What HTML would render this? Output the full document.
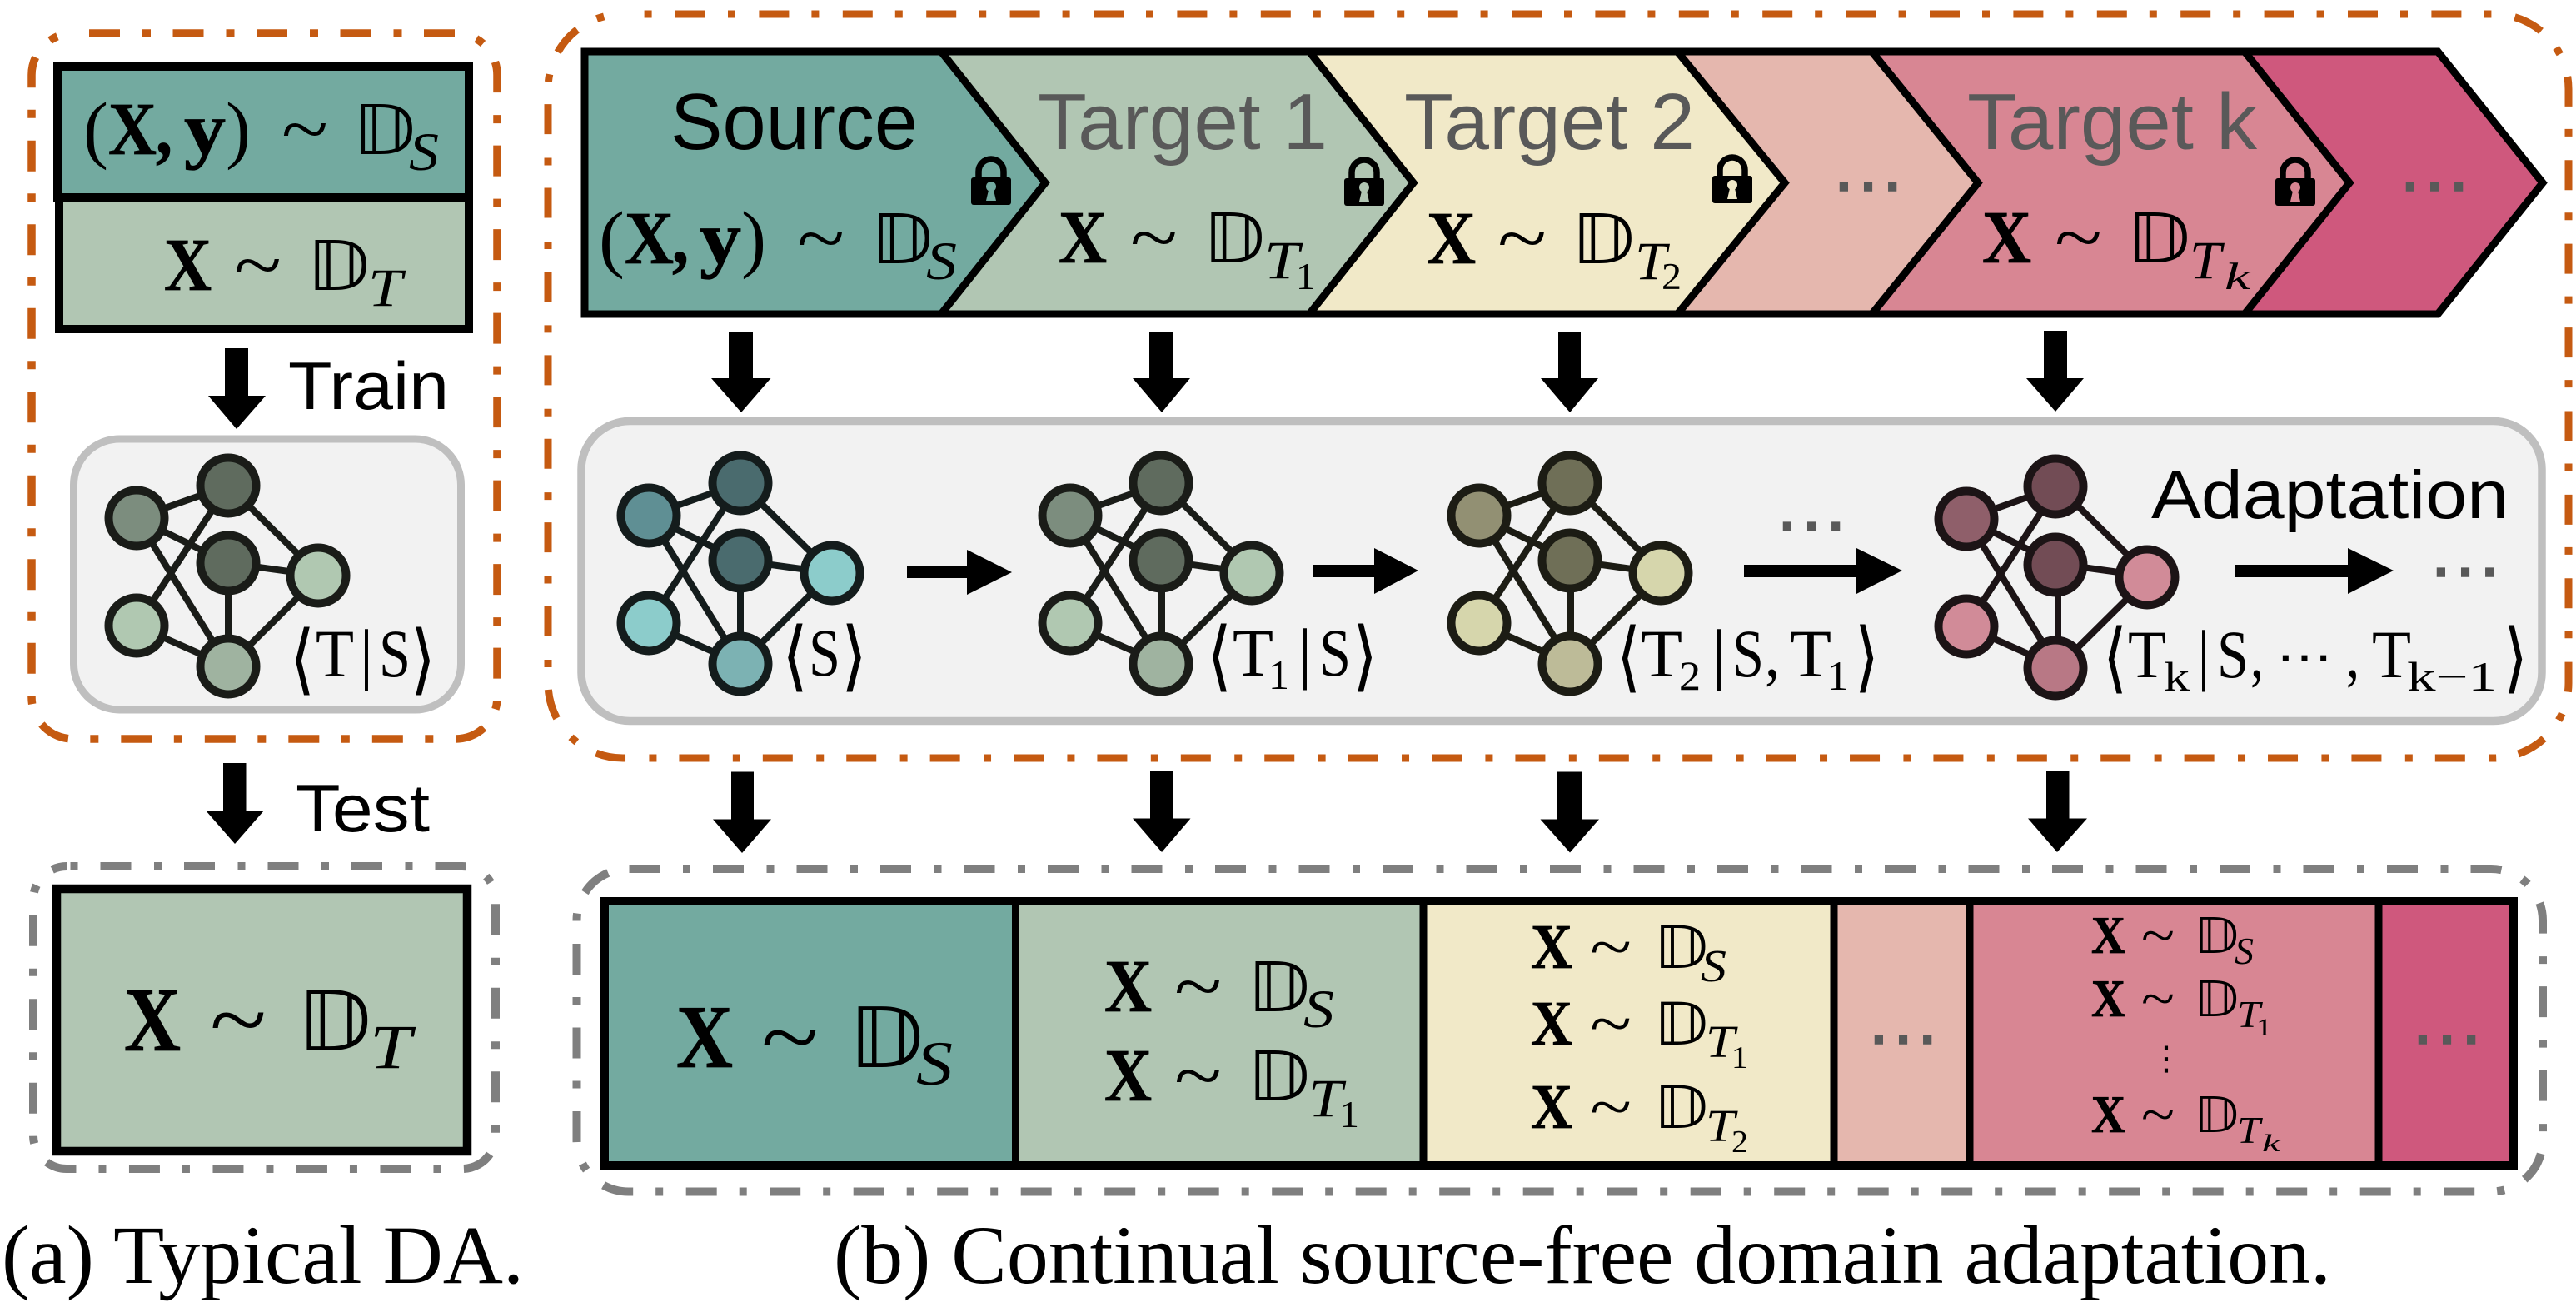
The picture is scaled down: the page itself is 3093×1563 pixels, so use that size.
<!DOCTYPE html>
<html>
<head>
<meta charset="utf-8">
<style>
html,body{margin:0;padding:0;background:#fff;width:3093px;height:1563px;overflow:hidden}
svg{display:block}
text{white-space:pre}
.r{font-family:"Liberation Serif",serif}
.b{font-family:"Liberation Serif",serif;font-weight:bold;stroke:#000;stroke-width:.8px}
.i{font-family:"Liberation Serif",serif;font-style:italic}
.d{font-family:"DejaVu Sans","DejaVu Serif",serif}
.br{font-family:"DejaVu Sans","DejaVu Serif",serif;stroke:#000;stroke-width:1px}
.s{font-family:"Liberation Sans",sans-serif}
.g{fill:#595959}
.dots{font-family:"Liberation Sans",sans-serif;font-size:92px;fill:#595959;stroke:#595959;stroke-width:1.5px}
</style>
</head>
<body>
<svg width="3093" height="1563" viewBox="0 0 3093 1563" xmlns="http://www.w3.org/2000/svg">
<defs>
<g id="edges" fill="none" stroke-width="8">
<path d="M0 0L110 -39M0 0L110 54M0 0L110 178M0 129L110 -39M0 129L110 178M110 -39L220 69M110 54L220 69M110 54L110 178M220 69L110 178"/>
</g>
<g id="lockbody">
<path d="M-15 30V19A15 15 0 0 1 15 19V30" fill="none" stroke="#000" stroke-width="7.5"/>
<rect x="-24" y="26" width="48" height="33" rx="3" fill="#000"/>
</g>
</defs>

<!-- (a) dashed boxes -->
<rect x="38" y="40" width="559" height="847" rx="50" fill="none" stroke="#c55a11" stroke-width="9.5" stroke-dasharray="37 27 10 26.5" stroke-dashoffset="-19"/>
<rect x="40" y="1040" width="555" height="363" rx="40" fill="none" stroke="#7f7f7f" stroke-width="10" stroke-dasharray="37 27.5 9 27" stroke-dashoffset="-40.5"/>

<!-- (a) top boxes -->
<rect x="69" y="80" width="494" height="157" fill="#73aaa0" stroke="#000" stroke-width="10"/>
<rect x="71" y="237" width="492" height="158" fill="#b1c6b3" stroke="#000" stroke-width="10"/>

<text class="r" x="100" y="185" font-size="90" textLength="30" lengthAdjust="spacingAndGlyphs">(</text>
<text class="b" x="130" y="185" font-size="90" textLength="58" lengthAdjust="spacingAndGlyphs">X</text>
<text class="b" x="187" y="185" font-size="90" textLength="20" lengthAdjust="spacingAndGlyphs">,</text>
<text class="b" x="221" y="185" font-size="90" textLength="50" lengthAdjust="spacingAndGlyphs">y</text>
<text class="r" x="271" y="185" font-size="90" textLength="30" lengthAdjust="spacingAndGlyphs">)</text>
<text class="r" x="338" y="185" font-size="90" textLength="56" lengthAdjust="spacingAndGlyphs">~</text>
<text class="d" x="423" y="185" font-size="82" textLength="76" lengthAdjust="spacingAndGlyphs">𝔻</text>
<text class="i" x="491" y="204" font-size="65" textLength="36" lengthAdjust="spacingAndGlyphs">S</text>

<text class="b" x="197" y="348" font-size="90" textLength="57" lengthAdjust="spacingAndGlyphs">X</text>
<text class="r" x="281" y="348" font-size="90" textLength="57" lengthAdjust="spacingAndGlyphs">~</text>
<text class="d" x="368" y="348" font-size="82" textLength="76" lengthAdjust="spacingAndGlyphs">𝔻</text>
<text class="i" x="442" y="367" font-size="65" textLength="41" lengthAdjust="spacingAndGlyphs">T</text>

<!-- Train arrow -->
<polygon points="270,418 298,418 298,475 319,475 284,515 250,475 270,475" fill="#000"/>
<text class="s" x="346" y="491" font-size="81" textLength="193" lengthAdjust="spacingAndGlyphs">Train</text>

<!-- (a) gray box and net -->
<rect x="88.5" y="527" width="465" height="325" rx="55" fill="#f2f2f2" stroke="#bfbfbf" stroke-width="9"/>
<g transform="translate(164,622)">
<use href="#edges" stroke="#1a1c18"/>
<g stroke="#1a1c18" stroke-width="10">
<circle cx="0" cy="0" r="33.5" fill="#7c8d7e"/>
<circle cx="110" cy="-39" r="33.5" fill="#5f6b5e"/>
<circle cx="110" cy="54" r="33.5" fill="#5f6b5e"/>
<circle cx="218" cy="69" r="33.5" fill="#b0c8b1"/>
<circle cx="0" cy="129" r="33.5" fill="#b0c8b1"/>
<circle cx="110" cy="178" r="33.5" fill="#9fb3a0"/>
</g>
</g>
<text class="br" x="349" y="822" font-size="91" textLength="28" lengthAdjust="spacingAndGlyphs">⟨</text>
<text class="r" x="379" y="812" font-size="82" textLength="46" lengthAdjust="spacingAndGlyphs">T</text>
<text class="r" x="432" y="812" font-size="82" textLength="16" lengthAdjust="spacingAndGlyphs">|</text>
<text class="r" x="455" y="812" font-size="82" textLength="38" lengthAdjust="spacingAndGlyphs">S</text>
<text class="br" x="494" y="822" font-size="91" textLength="28" lengthAdjust="spacingAndGlyphs">⟩</text>

<!-- Test arrow -->
<polygon points="268,916 295.5,916 295.5,973 317,973 282,1013 247,973 268,973" fill="#000"/>
<text class="s" x="355" y="998" font-size="81" textLength="161" lengthAdjust="spacingAndGlyphs">Test</text>

<!-- (a) test box -->
<rect x="68" y="1067" width="493" height="315" fill="#b1c6b3" stroke="#000" stroke-width="10.5"/>
<text class="b" x="149" y="1261" font-size="110" textLength="68" lengthAdjust="spacingAndGlyphs">X</text>
<text class="r" x="252" y="1261" font-size="110" textLength="68" lengthAdjust="spacingAndGlyphs">~</text>
<text class="d" x="356" y="1261" font-size="100" textLength="90" lengthAdjust="spacingAndGlyphs">𝔻</text>
<text class="i" x="444" y="1282" font-size="75" textLength="50" lengthAdjust="spacingAndGlyphs">T</text>

<text class="r" x="2" y="1540" font-size="100" textLength="627" lengthAdjust="spacingAndGlyphs">(a) Typical DA.</text>

<!-- (b) orange dashed -->
<rect x="658" y="17" width="2426" height="893" rx="90" fill="none" stroke="#c55a11" stroke-width="9" stroke-dasharray="36 27 9 28.4" stroke-dashoffset="-63"/>

<!-- chevrons -->
<g stroke="#000" stroke-width="9" stroke-linejoin="miter" stroke-miterlimit="10">
<polygon points="2600,62 2927,62 3053,219.5 2927,377 2600,377" fill="#cf587d"/>
<polygon points="2200,62 2695,62 2821,219.5 2695,377 2200,377" fill="#d88693"/>
<polygon points="1950,62 2247.5,62 2375,219.5 2247.5,377 1950,377" fill="#e5b7ae"/>
<polygon points="1500,62 2014,62 2143,219.5 2014,377 1500,377" fill="#f1e9c8"/>
<polygon points="1000,62 1572,62 1697,219.5 1572,377 1000,377" fill="#b1c6b3"/>
<polygon points="702,62 1130,62 1255,219.5 1130,377 702,377" fill="#73aaa0"/>
</g>

<text class="s" x="805" y="179" font-size="96" textLength="297" lengthAdjust="spacingAndGlyphs">Source</text>
<text class="s g" x="1246" y="179" font-size="96" textLength="348" lengthAdjust="spacingAndGlyphs">Target 1</text>
<text class="s g" x="1686" y="179" font-size="96" textLength="349" lengthAdjust="spacingAndGlyphs">Target 2</text>
<text class="s g" x="2362" y="179" font-size="96" textLength="348" lengthAdjust="spacingAndGlyphs">Target k</text>
<text class="dots" x="2197" y="229">…</text>
<text class="dots" x="2877" y="229">…</text>

<!-- locks -->
<g transform="translate(1190,187)"><use href="#lockbody"/><circle cx="0" cy="37" r="6" fill="#73aaa0"/><polygon points="-2,37 2,37 6,54 -6,54" fill="#73aaa0"/></g>
<g transform="translate(1638,188)"><use href="#lockbody"/><circle cx="0" cy="37" r="6" fill="#b1c6b3"/><polygon points="-2,37 2,37 6,54 -6,54" fill="#b1c6b3"/></g>
<g transform="translate(2080,185)"><use href="#lockbody"/><circle cx="0" cy="37" r="6" fill="#f1e9c8"/><polygon points="-2,37 2,37 6,54 -6,54" fill="#f1e9c8"/></g>
<g transform="translate(2756,188)"><use href="#lockbody"/><circle cx="0" cy="37" r="6" fill="#d88693"/><polygon points="-2,37 2,37 6,54 -6,54" fill="#d88693"/></g>

<!-- chevron math -->
<text class="r" x="719" y="316" font-size="90" textLength="31" lengthAdjust="spacingAndGlyphs">(</text>
<text class="b" x="750" y="316" font-size="90" textLength="59" lengthAdjust="spacingAndGlyphs">X</text>
<text class="b" x="807" y="316" font-size="90" textLength="20" lengthAdjust="spacingAndGlyphs">,</text>
<text class="b" x="840" y="316" font-size="90" textLength="50" lengthAdjust="spacingAndGlyphs">y</text>
<text class="r" x="890" y="316" font-size="90" textLength="30" lengthAdjust="spacingAndGlyphs">)</text>
<text class="r" x="957" y="316" font-size="90" textLength="57" lengthAdjust="spacingAndGlyphs">~</text>
<text class="d" x="1045" y="316" font-size="82" textLength="75" lengthAdjust="spacingAndGlyphs">𝔻</text>
<text class="i" x="1112" y="335" font-size="65" textLength="37" lengthAdjust="spacingAndGlyphs">S</text>

<text class="b" x="1271" y="315" font-size="90" textLength="58" lengthAdjust="spacingAndGlyphs">X</text>
<text class="r" x="1357" y="315" font-size="90" textLength="57" lengthAdjust="spacingAndGlyphs">~</text>
<text class="d" x="1444" y="315" font-size="82" textLength="75" lengthAdjust="spacingAndGlyphs">𝔻</text>
<text class="i" x="1518" y="334" font-size="65" textLength="42" lengthAdjust="spacingAndGlyphs">T</text>
<text class="r" x="1556" y="347" font-size="45" textLength="23" lengthAdjust="spacingAndGlyphs">1</text>

<text class="b" x="1713" y="316" font-size="90" textLength="59" lengthAdjust="spacingAndGlyphs">X</text>
<text class="r" x="1798" y="316" font-size="90" textLength="59" lengthAdjust="spacingAndGlyphs">~</text>
<text class="d" x="1886" y="316" font-size="82" textLength="77" lengthAdjust="spacingAndGlyphs">𝔻</text>
<text class="i" x="1963" y="335" font-size="65" textLength="38" lengthAdjust="spacingAndGlyphs">T</text>
<text class="r" x="1995" y="347" font-size="45" textLength="24" lengthAdjust="spacingAndGlyphs">2</text>

<text class="b" x="2380" y="315" font-size="90" textLength="59" lengthAdjust="spacingAndGlyphs">X</text>
<text class="r" x="2467" y="315" font-size="90" textLength="57" lengthAdjust="spacingAndGlyphs">~</text>
<text class="d" x="2553" y="315" font-size="82" textLength="77" lengthAdjust="spacingAndGlyphs">𝔻</text>
<text class="i" x="2629" y="334" font-size="65" textLength="38" lengthAdjust="spacingAndGlyphs">T</text>
<text class="i" x="2671" y="347" font-size="45" textLength="31" lengthAdjust="spacingAndGlyphs">k</text>

<!-- arrows row 1 -->
<g fill="#000">
<polygon points="875,398 904,398 904,454 925.5,454 890,495 854,454 875,454"/>
<polygon points="1380,398 1409,398 1409,454 1429,454 1395,495 1360,454 1380,454"/>
<polygon points="1871,398 1898,398 1898,454 1919,454 1885,495 1850,454 1871,454"/>
<polygon points="2454,397 2482,397 2482,454 2502,454 2468,494 2433,454 2454,454"/>
</g>

<!-- gray adaptation panel -->
<rect x="698" y="505.5" width="2354" height="360" rx="58" fill="#f2f2f2" stroke="#bfbfbf" stroke-width="9.5"/>

<!-- nets -->
<g transform="translate(779,619)">
<use href="#edges" stroke="#141c1c"/>
<g stroke="#141c1c" stroke-width="10">
<circle cx="0" cy="0" r="33.5" fill="#5f8f94"/>
<circle cx="110" cy="-39" r="33.5" fill="#4a6b6e"/>
<circle cx="110" cy="54" r="33.5" fill="#4a6b6e"/>
<circle cx="220" cy="69" r="33.5" fill="#8ccccb"/>
<circle cx="0" cy="129" r="33.5" fill="#8ccccb"/>
<circle cx="110" cy="178" r="33.5" fill="#7cb2b3"/>
</g>
</g>
<g transform="translate(1285,619)">
<use href="#edges" stroke="#1a1c18"/>
<g stroke="#1a1c18" stroke-width="10">
<circle cx="0" cy="0" r="33.5" fill="#7c8d7e"/>
<circle cx="109" cy="-39" r="33.5" fill="#5f6b5e"/>
<circle cx="109" cy="54" r="33.5" fill="#5f6b5e"/>
<circle cx="218" cy="69" r="33.5" fill="#b0c8b1"/>
<circle cx="0" cy="129" r="33.5" fill="#b0c8b1"/>
<circle cx="109" cy="178" r="33.5" fill="#9fb3a0"/>
</g>
</g>
<g transform="translate(1776,619)">
<use href="#edges" stroke="#1c1c14"/>
<g stroke="#1c1c14" stroke-width="10">
<circle cx="0" cy="0" r="33.5" fill="#929073"/>
<circle cx="109" cy="-39" r="33.5" fill="#6f6f57"/>
<circle cx="109" cy="54" r="33.5" fill="#6f6f57"/>
<circle cx="218" cy="69" r="33.5" fill="#d6d6ac"/>
<circle cx="0" cy="129" r="33.5" fill="#d6d6ac"/>
<circle cx="109" cy="178" r="33.5" fill="#bdbb98"/>
</g>
</g>
<g transform="translate(2361,623)">
<use href="#edges" stroke="#1c1416"/>
<g stroke="#1c1416" stroke-width="10">
<circle cx="0" cy="0" r="33.5" fill="#8f5f6a"/>
<circle cx="107" cy="-39" r="33.5" fill="#724c55"/>
<circle cx="107" cy="55" r="33.5" fill="#724c55"/>
<circle cx="217" cy="70" r="33.5" fill="#d18b98"/>
<circle cx="0" cy="129" r="33.5" fill="#d18b98"/>
<circle cx="107" cy="179" r="33.5" fill="#b87885"/>
</g>
</g>

<!-- horizontal arrows -->
<g fill="#000">
<polygon points="1089,679 1161,679 1161,660 1215,687 1161,714 1161,694 1089,694"/>
<polygon points="1577,678 1650,678 1650,658 1703,685 1650,713 1650,693 1577,693"/>
<polygon points="2094,678 2229,678 2229,658 2284,685 2229,713 2229,693 2094,693"/>
<polygon points="2684,678 2819,678 2819,658 2874,685 2819,713 2819,693 2684,693"/>
</g>
<text class="dots" x="2129" y="637">…</text>
<text class="dots" x="2914" y="692">…</text>
<text class="s" x="2583" y="622" font-size="82" textLength="429" lengthAdjust="spacingAndGlyphs">Adaptation</text>

<!-- captions -->
<text class="br" x="940" y="818" font-size="91" textLength="29" lengthAdjust="spacingAndGlyphs">⟨</text>
<text class="r" x="971" y="811" font-size="82" textLength="38" lengthAdjust="spacingAndGlyphs">S</text>
<text class="br" x="1011" y="818" font-size="91" textLength="29" lengthAdjust="spacingAndGlyphs">⟩</text>

<text class="br" x="1450" y="818" font-size="91" textLength="28" lengthAdjust="spacingAndGlyphs">⟨</text>
<text class="r" x="1480" y="811" font-size="82" textLength="49" lengthAdjust="spacingAndGlyphs">T</text>
<text class="r" x="1523" y="827" font-size="50" textLength="25" lengthAdjust="spacingAndGlyphs">1</text>
<text class="r" x="1559" y="811" font-size="82" textLength="16" lengthAdjust="spacingAndGlyphs">|</text>
<text class="r" x="1584" y="811" font-size="82" textLength="38" lengthAdjust="spacingAndGlyphs">S</text>
<text class="br" x="1625" y="818" font-size="91" textLength="28" lengthAdjust="spacingAndGlyphs">⟩</text>

<text class="br" x="1942" y="819" font-size="91" textLength="27" lengthAdjust="spacingAndGlyphs">⟨</text>
<text class="r" x="1970" y="812" font-size="82" textLength="50" lengthAdjust="spacingAndGlyphs">T</text>
<text class="r" x="2016" y="828" font-size="50" textLength="26" lengthAdjust="spacingAndGlyphs">2</text>
<text class="r" x="2056" y="812" font-size="82" textLength="16" lengthAdjust="spacingAndGlyphs">|</text>
<text class="r" x="2080" y="812" font-size="82" textLength="38" lengthAdjust="spacingAndGlyphs">S</text>
<text class="r" x="2119" y="812" font-size="82" textLength="18" lengthAdjust="spacingAndGlyphs">,</text>
<text class="r" x="2149" y="812" font-size="82" textLength="50" lengthAdjust="spacingAndGlyphs">T</text>
<text class="r" x="2194" y="828" font-size="50" textLength="25" lengthAdjust="spacingAndGlyphs">1</text>
<text class="br" x="2228" y="819" font-size="91" textLength="27" lengthAdjust="spacingAndGlyphs">⟩</text>

<text class="br" x="2526" y="820" font-size="91" textLength="27" lengthAdjust="spacingAndGlyphs">⟨</text>
<text class="r" x="2555" y="813" font-size="82" textLength="46" lengthAdjust="spacingAndGlyphs">T</text>
<text class="r" x="2598" y="829" font-size="50" textLength="31" lengthAdjust="spacingAndGlyphs">k</text>
<text class="r" x="2638" y="813" font-size="82" textLength="16" lengthAdjust="spacingAndGlyphs">|</text>
<text class="r" x="2662" y="813" font-size="82" textLength="38" lengthAdjust="spacingAndGlyphs">S</text>
<text class="r" x="2702" y="813" font-size="82" textLength="16" lengthAdjust="spacingAndGlyphs">,</text>
<text class="d" x="2733" y="809" font-size="60" textLength="68" lengthAdjust="spacingAndGlyphs">⋯</text>
<text class="r" x="2817" y="813" font-size="82" textLength="16" lengthAdjust="spacingAndGlyphs">,</text>
<text class="r" x="2848" y="813" font-size="82" textLength="47" lengthAdjust="spacingAndGlyphs">T</text>
<text class="r" x="2890" y="829" font-size="50" textLength="108" lengthAdjust="spacingAndGlyphs">k−1</text>
<text class="br" x="3007" y="820" font-size="91" textLength="27" lengthAdjust="spacingAndGlyphs">⟩</text>

<!-- arrows row 2 -->
<g fill="#000">
<polygon points="878,926.5 905,926.5 905,983.5 926,983.5 891,1024 856,983.5 878,983.5"/>
<polygon points="1381,925.5 1409,925.5 1409,982.5 1429.5,982.5 1395,1023 1360,982.5 1381,982.5"/>
<polygon points="1870,926.5 1899,926.5 1899,983.5 1920,983.5 1885,1023.5 1849.5,983.5 1870,983.5"/>
<polygon points="2457,925.5 2484.5,925.5 2484.5,982.5 2506,982.5 2470,1023 2435,982.5 2457,982.5"/>
</g>

<!-- (b) gray dashed -->
<rect x="692.5" y="1043" width="2360.5" height="387.5" rx="62" fill="none" stroke="#7f7f7f" stroke-width="10" stroke-dasharray="37 27.5 9 27" stroke-dashoffset="-1"/>

<!-- (b) bottom cells -->
<rect x="726" y="1082" width="493.5" height="317" fill="#73aaa0"/>
<rect x="1219.5" y="1082" width="489.5" height="317" fill="#b1c6b3"/>
<rect x="1709" y="1082" width="493" height="317" fill="#f1e9c8"/>
<rect x="2202" y="1082" width="163" height="317" fill="#e5b7ae"/>
<rect x="2365" y="1082" width="491" height="317" fill="#d88693"/>
<rect x="2856" y="1082" width="162" height="317" fill="#cf587d"/>
<rect x="726" y="1082" width="2292" height="317" fill="none" stroke="#000" stroke-width="10"/>
<g stroke="#000" stroke-width="9">
<line x1="1219.5" y1="1082" x2="1219.5" y2="1399"/>
<line x1="1709" y1="1082" x2="1709" y2="1399"/>
<line x1="2202" y1="1082" x2="2202" y2="1399"/>
<line x1="2365" y1="1082" x2="2365" y2="1399"/>
<line x1="2856" y1="1082" x2="2856" y2="1399"/>
</g>

<!-- cell 1 -->
<text class="b" x="812" y="1281" font-size="108" textLength="68" lengthAdjust="spacingAndGlyphs">X</text>
<text class="r" x="914" y="1281" font-size="108" textLength="69" lengthAdjust="spacingAndGlyphs">~</text>
<text class="d" x="1018" y="1281" font-size="100" textLength="91" lengthAdjust="spacingAndGlyphs">𝔻</text>
<text class="i" x="1100" y="1302" font-size="75" textLength="44" lengthAdjust="spacingAndGlyphs">S</text>
<!-- cell 2 -->
<text class="b" x="1326" y="1214" font-size="90" textLength="57" lengthAdjust="spacingAndGlyphs">X</text>
<text class="r" x="1410" y="1214" font-size="90" textLength="57" lengthAdjust="spacingAndGlyphs">~</text>
<text class="d" x="1497" y="1214" font-size="82" textLength="76" lengthAdjust="spacingAndGlyphs">𝔻</text>
<text class="i" x="1565" y="1233" font-size="65" textLength="37" lengthAdjust="spacingAndGlyphs">S</text>
<text class="b" x="1326" y="1321" font-size="90" textLength="57" lengthAdjust="spacingAndGlyphs">X</text>
<text class="r" x="1410" y="1321" font-size="90" textLength="57" lengthAdjust="spacingAndGlyphs">~</text>
<text class="d" x="1497" y="1321" font-size="82" textLength="76" lengthAdjust="spacingAndGlyphs">𝔻</text>
<text class="i" x="1571" y="1340" font-size="65" textLength="41" lengthAdjust="spacingAndGlyphs">T</text>
<text class="r" x="1608" y="1353" font-size="45" textLength="24" lengthAdjust="spacingAndGlyphs">1</text>
<!-- cell 3 -->
<text class="b" x="1838" y="1162" font-size="76" textLength="50" lengthAdjust="spacingAndGlyphs">X</text>
<text class="r" x="1909" y="1162" font-size="76" textLength="50" lengthAdjust="spacingAndGlyphs">~</text>
<text class="d" x="1985" y="1162" font-size="70" textLength="66" lengthAdjust="spacingAndGlyphs">𝔻</text>
<text class="i" x="2042" y="1178" font-size="55" textLength="31" lengthAdjust="spacingAndGlyphs">S</text>
<text class="b" x="1838" y="1254" font-size="76" textLength="50" lengthAdjust="spacingAndGlyphs">X</text>
<text class="r" x="1909" y="1254" font-size="76" textLength="50" lengthAdjust="spacingAndGlyphs">~</text>
<text class="d" x="1985" y="1254" font-size="70" textLength="66" lengthAdjust="spacingAndGlyphs">𝔻</text>
<text class="i" x="2048" y="1269" font-size="55" textLength="35" lengthAdjust="spacingAndGlyphs">T</text>
<text class="r" x="2079" y="1282" font-size="38" textLength="20" lengthAdjust="spacingAndGlyphs">1</text>
<text class="b" x="1838" y="1354" font-size="76" textLength="50" lengthAdjust="spacingAndGlyphs">X</text>
<text class="r" x="1909" y="1354" font-size="76" textLength="50" lengthAdjust="spacingAndGlyphs">~</text>
<text class="d" x="1985" y="1354" font-size="70" textLength="66" lengthAdjust="spacingAndGlyphs">𝔻</text>
<text class="i" x="2048" y="1370" font-size="55" textLength="35" lengthAdjust="spacingAndGlyphs">T</text>
<text class="r" x="2079" y="1383" font-size="38" textLength="20" lengthAdjust="spacingAndGlyphs">2</text>
<!-- cell 4 dots -->
<text class="dots" x="2239" y="1253">…</text>
<!-- cell 5 -->
<text class="b" x="2511" y="1144" font-size="64" textLength="41" lengthAdjust="spacingAndGlyphs">X</text>
<text class="r" x="2571" y="1144" font-size="64" textLength="40" lengthAdjust="spacingAndGlyphs">~</text>
<text class="d" x="2634" y="1144" font-size="59" textLength="54" lengthAdjust="spacingAndGlyphs">𝔻</text>
<text class="i" x="2683" y="1157" font-size="45" textLength="23" lengthAdjust="spacingAndGlyphs">S</text>
<text class="b" x="2511" y="1220" font-size="64" textLength="41" lengthAdjust="spacingAndGlyphs">X</text>
<text class="r" x="2571" y="1220" font-size="64" textLength="40" lengthAdjust="spacingAndGlyphs">~</text>
<text class="d" x="2634" y="1220" font-size="59" textLength="54" lengthAdjust="spacingAndGlyphs">𝔻</text>
<text class="i" x="2686" y="1233" font-size="45" textLength="28" lengthAdjust="spacingAndGlyphs">T</text>
<text class="r" x="2709" y="1243" font-size="30" textLength="19" lengthAdjust="spacingAndGlyphs">1</text>
<text class="d" x="2581" y="1284" font-size="40">⋮</text>
<text class="b" x="2511" y="1359" font-size="64" textLength="41" lengthAdjust="spacingAndGlyphs">X</text>
<text class="r" x="2571" y="1359" font-size="64" textLength="40" lengthAdjust="spacingAndGlyphs">~</text>
<text class="d" x="2634" y="1359" font-size="59" textLength="54" lengthAdjust="spacingAndGlyphs">𝔻</text>
<text class="i" x="2686" y="1372" font-size="45" textLength="28" lengthAdjust="spacingAndGlyphs">T</text>
<text class="i" x="2716" y="1382" font-size="30" textLength="22" lengthAdjust="spacingAndGlyphs">k</text>
<!-- cell 6 dots -->
<text class="dots" x="2892" y="1253">…</text>

<text class="r" x="1001" y="1540" font-size="100" textLength="1798" lengthAdjust="spacingAndGlyphs">(b) Continual source-free domain adaptation.</text>
</svg>
</body>
</html>
